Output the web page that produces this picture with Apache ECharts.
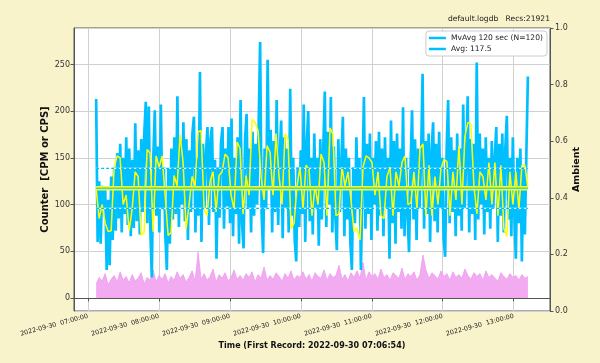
<!DOCTYPE html>
<html>
<head>
<meta charset="utf-8">
<script src="https://cdn.jsdelivr.net/npm/echarts@6/dist/echarts.min.js"></script>
<style>
html,body{margin:0;padding:0;background:#F9F3CC;}
#chart{width:600px;height:363px;}
</style>
</head>
<body>
<div id="chart"></div>
<script>
// ---- data ----
const startTime = new Date(2022, 8, 30, 7, 6, 54).getTime();
const endTime = new Date(2022, 8, 30, 13, 12, 0).getTime();
const axisMinTime = new Date(2022, 8, 30, 6, 48, 10).getTime();
const axisMaxTime = new Date(2022, 8, 30, 13, 30, 42).getTime();

const counterValues = [
  213, 60, 125, 58, 120, 95, 118, 30, 105, 35, 130, 62,
  140, 72, 155, 85, 165, 70, 150, 90, 172, 78, 160, 66,
  148, 75, 187, 82, 158, 68, 170, 92, 176, 210, 80, 205,
  74, 22, 150, 201, 88, 162, 70, 207, 95, 140, 66, 30,
  138, 58, 160, 84, 172, 90, 216, 76, 168, 100, 188, 82,
  170, 62, 158, 92, 176, 194, 70, 150, 88, 242, 60, 165,
  96, 155, 183, 78, 170, 183, 92, 148, 42, 140, 86, 166,
  183, 74, 160, 98, 183, 80, 192, 66, 150, 90, 172, 58,
  212, 80, 53, 170, 197, 96, 160, 70, 178, 88, 165, 100,
  182, 274, 90, 48, 160, 95, 255, 120, 180, 70, 168, 92,
  212, 78, 150, 190, 64, 172, 96, 160, 70, 224, 88, 150,
  62, 39, 140, 76, 158, 90, 207, 60, 165, 200, 82, 150,
  68, 176, 95, 150, 56, 170, 84, 160, 221, 76, 178, 100,
  215, 70, 162, 88, 51, 170, 92, 145, 194, 66, 160, 84,
  150, 58, 30, 140, 80, 172, 96, 150, 30, 120, 215, 74,
  165, 90, 176, 62, 150, 100, 168, 72, 178, 88, 160, 66,
  172, 96, 150, 42, 190, 80, 168, 58, 176, 92, 160, 74,
  204, 66, 150, 90, 49, 140, 201, 84, 170, 62, 160, 96,
  150, 240, 74, 168, 90, 176, 60, 158, 188, 82, 165, 70,
  178, 96, 150, 64, 44, 160, 212, 80, 172, 92, 158, 66,
  176, 88, 160, 72, 207, 96, 150, 216, 70, 170, 90, 165,
  62, 252, 84, 176, 100, 160, 68, 172, 92, 150, 74, 168,
  96, 150, 183, 60, 165, 88, 176, 70, 160, 195, 84, 150,
  66, 172, 90, 42, 150, 80, 160, 39, 140, 68, 155, 237
];

const movingAvgValues = [
  117, 85, 100, 80, 71, 72, 140, 152, 150, 100, 110, 72,
  95, 135, 130, 67, 70, 159, 155, 71, 152, 140, 152, 110,
  67, 70, 131, 120, 175, 145, 74, 100, 130, 120, 178, 179,
  95, 88, 125, 135, 92, 131, 135, 154, 150, 110, 95, 167,
  160, 90, 131, 110, 191, 188, 179, 130, 105, 163, 156, 110,
  176, 130, 100, 176, 170, 74, 80, 120, 140, 95, 142, 138,
  88, 120, 100, 154, 145, 88, 182, 175, 88, 90, 140, 120,
  135, 105, 71, 75, 62, 140, 152, 150, 145, 110, 135, 88,
  85, 130, 140, 88, 135, 120, 145, 152, 100, 102, 135, 95,
  160, 165, 88, 142, 88, 130, 100, 138, 148, 146, 88, 135,
  105, 163, 100, 173, 188, 186, 120, 90, 135, 130, 105, 145,
  100, 145, 88, 142, 74, 66, 135, 100, 135, 95, 142, 142, 118
];

const ambientCountValues = [
  15, 22, 18, 26, 14, 20, 24, 17, 28, 19, 23, 16,
  25, 18, 21, 27, 15, 22, 19, 30, 17, 24, 20, 26,
  16, 23, 19, 28, 21, 25, 17, 22, 29, 18, 49, 20,
  26, 19, 23, 31, 17, 25, 21, 27, 18, 22, 30, 20,
  24, 19, 26, 22, 28, 17, 25, 21, 33, 19, 24, 20,
  27, 23, 18, 26, 21, 29, 19, 24, 22, 28, 20, 25,
  18, 27, 23, 21, 30, 19, 26, 22, 24, 35, 20, 25,
  18, 27, 22, 29, 21, 38, 19, 28, 23, 26, 20, 31,
  22, 25, 19, 27, 24, 21, 32, 20, 26, 23, 28, 19,
  25, 46, 30, 21, 27, 24, 20, 29, 23, 26, 19, 28,
  22, 25, 21, 31, 24, 20, 27, 23, 26, 19, 29, 22,
  25, 21, 18, 27, 23, 20, 26, 22, 24, 19, 25, 21, 23
];

const averageValue = 117.5;
const sigmaBandValues = [138.6, 95.8];
const legendNames = ['MvAvg 120 sec (N=120)', 'Avg: 117.5'];
const headerText = 'default.logdb   Recs:21921';
const leftAxisName = 'Counter  [CPM or CPS]';
const rightAxisName = 'Ambient';
const xAxisName = 'Time (First Record: 2022-09-30 07:06:54)';

// ---- build ----
function toSeries(vals) {
  const n = vals.length;
  return vals.map((v, i) => [startTime + (endTime - startTime) * i / (n - 1), v]);
}
function flat(v) { return [[startTime, v], [endTime, v]]; }
function pad(n) { return String(n).padStart(2, '0'); }

const FONT = 'DejaVu Sans';
const BLUE = '#00BFFF';
const chart = echarts.init(document.getElementById('chart'), null, {renderer: 'canvas', width: 600, height: 363});

const series = [
  {
    type: 'line', name: 'ambient', data: toSeries(ambientCountValues), symbol: 'none',
    lineStyle: {width: 0.8, color: '#EE9CEE'}, areaStyle: {color: '#F2AAF0', opacity: 1}, z: 1,
    silent: true
  },
  {
    type: 'line', name: legendNames[0], data: toSeries(counterValues), symbol: 'none',
    lineStyle: {width: 2.7, color: BLUE}, itemStyle: {color: BLUE}, z: 2
  },
  {
    type: 'line', name: 'mvavg', data: toSeries(movingAvgValues), symbol: 'none',
    lineStyle: {width: 1.5, color: '#FFFF00'}, itemStyle: {color: '#FFFF00'}, z: 3
  }
];
sigmaBandValues.forEach(v => {
  series.push({type: 'line', name: 'bandbase', data: flat(v), symbol: 'none',
    lineStyle: {width: 1.2, color: '#ffffff'}, z: 4});
  series.push({type: 'line', name: 'band', data: flat(v), symbol: 'none',
    lineStyle: {width: 1.2, color: BLUE, type: [3, 2]}, z: 5});
});
series.push({type: 'line', name: 'avgbase', data: flat(averageValue), symbol: 'none',
  lineStyle: {width: 4.5, color: '#FFFF00'}, z: 6});
series.push({type: 'line', name: legendNames[1], data: flat(averageValue), symbol: 'none',
  lineStyle: {width: 1.5, color: '#3CCFEF'}, itemStyle: {color: BLUE}, z: 7});

const option = {
  animation: false,
  backgroundColor: '#F9F3CC',
  textStyle: {fontFamily: FONT},
  title: {
    text: headerText, right: 50, top: 15, padding: 0,
    textStyle: {fontFamily: FONT, fontSize: 7.6, fontWeight: 'normal', color: '#222'}
  },
  legend: {
    data: legendNames, orient: 'vertical', right: 53, top: 31, icon: 'rect',
    itemWidth: 17, itemHeight: 2.5, itemGap: 3,
    padding: [3, 4, 3, 3],
    backgroundColor: '#ffffff', borderColor: '#cccccc', borderWidth: 1, borderRadius: 3,
    textStyle: {fontFamily: FONT, fontSize: 7.6, color: '#222'},
    selectedMode: false
  },
  grid: {
    left: 74, right: 50, top: 28, bottom: 52, show: true,
    backgroundColor: '#ffffff', borderColor: '#555', borderWidth: 1
  },
  xAxis: {
    type: 'time', min: axisMinTime, max: axisMaxTime, splitNumber: 7,
    name: xAxisName, nameLocation: 'middle', nameGap: 31, nameMoveOverlap: false,
    nameTextStyle: {fontFamily: FONT, fontSize: 8, fontWeight: 'bold', color: '#111'},
    axisLine: {show: true, lineStyle: {color: '#555'}},
    axisTick: {show: true, length: 3.5, lineStyle: {color: '#555'}},
    minorTick: {show: false},
    splitLine: {show: true, lineStyle: {color: '#d0d0d0', width: 1}},
    axisLabel: {
      rotate: 15, fontSize: 6.4, color: '#222', margin: 5, hideOverlap: false,
      showMinLabel: false, showMaxLabel: false,
      formatter: function (val) {
        const d = new Date(val);
        return d.getFullYear() + '-' + pad(d.getMonth() + 1) + '-' + pad(d.getDate()) + '  ' +
          pad(d.getHours()) + ':' + pad(d.getMinutes()) + ':' + pad(d.getSeconds());
      }
    }
  },
  yAxis: [
    {
      type: 'value', min: -14, max: 289, splitNumber: 5, position: 'left',
      name: leftAxisName, nameLocation: 'middle', nameGap: 24, nameMoveOverlap: false,
      nameTextStyle: {fontFamily: FONT, fontSize: 10, fontWeight: 'bold', color: '#111'},
      axisLine: {show: true, lineStyle: {color: '#555'}},
      axisTick: {show: true, length: 3.5, lineStyle: {color: '#555'}},
      splitLine: {show: true, lineStyle: {color: '#d0d0d0', width: 1}},
      axisLabel: {fontSize: 8, color: '#333', margin: 4, showMinLabel: false, showMaxLabel: false}
    },
    {
      type: 'value', min: 0, max: 1, interval: 0.2, position: 'right',
      name: rightAxisName, nameLocation: 'middle', nameGap: 22, nameMoveOverlap: false,
      nameTextStyle: {fontFamily: FONT, fontSize: 9.5, fontWeight: 'bold', color: '#111'},
      axisLine: {show: true, lineStyle: {color: '#555'}},
      axisTick: {show: true, length: 3.5, lineStyle: {color: '#555'}},
      splitLine: {show: false},
      axisLabel: {fontSize: 8, color: '#333', margin: 5, formatter: v => v.toFixed(1)}
    }
  ],
  series: series
};
chart.setOption(option);
</script>
</body>
</html>
